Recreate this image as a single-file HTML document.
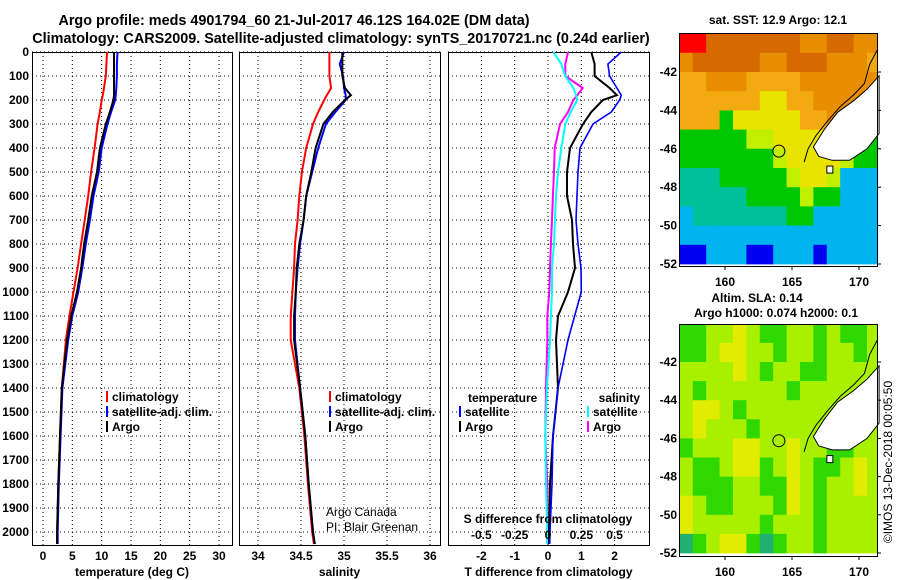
<!DOCTYPE html>
<html><head><meta charset="utf-8"><style>
html,body{margin:0;padding:0;background:#fff;}
svg{display:block;font-family:"Liberation Sans",sans-serif;}
</style></head><body>
<svg id="fig" width="900" height="580" viewBox="0 0 900 580" xmlns="http://www.w3.org/2000/svg">
<text x="294" y="25" text-anchor="middle" font-size="14.4" font-weight="bold">Argo profile: meds 4901794_60 21-Jul-2017 46.12S 164.02E (DM data)</text>
<text x="341" y="43" text-anchor="middle" font-size="14.4" font-weight="bold">Climatology: CARS2009. Satellite-adjusted climatology: synTS_20170721.nc (0.24d earlier)</text>
<text x="778" y="24" text-anchor="middle" font-size="12" font-weight="bold">sat. SST: 12.9 Argo: 12.1</text>
<text x="757" y="302" text-anchor="middle" font-size="12" font-weight="bold">Altim. SLA: 0.14</text>
<text x="776" y="317" text-anchor="middle" font-size="12" font-weight="bold">Argo h1000: 0.074 h2000: 0.1</text>
<text transform="translate(892,462) rotate(-90)" text-anchor="middle" font-size="12">©IMOS 13-Dec-2018 00:05:50</text>
<g id="maps"></g>
<g id="panels"></g>
</svg>
<script>
// ---------- data ----------
const depths = [0,50,100,150,180,200,250,300,400,500,600,700,800,900,1000,1100,1200,1400,1600,1800,2000,2050];
const tempArgo = [12.1,12.1,12.1,12.1,12.1,12.0,11.4,10.7,9.7,9.2,8.3,7.7,7.0,6.5,5.8,4.8,4.1,3.2,2.9,2.6,2.4,2.4];
const tempSat  = [12.7,12.6,12.6,12.5,12.4,12.3,11.6,11.0,10.0,9.5,8.6,8.0,7.3,6.7,6.0,5.0,4.3,3.3,3.0,2.7,2.5,2.5];
const tempClim = [10.9,10.8,10.7,10.4,10.2,10.0,9.7,9.3,8.8,8.2,7.7,7.1,6.5,5.9,5.2,4.5,3.9,3.2,2.9,2.6,2.4,2.4];
const salArgo = [34.98,34.98,34.98,35.01,35.08,35.01,34.87,34.76,34.67,34.62,34.56,34.53,34.48,34.45,34.44,34.42,34.42,34.49,34.55,34.59,34.64,34.66];
const salSat  = [35.00,34.95,34.99,35.00,35.02,35.02,34.90,34.79,34.70,34.63,34.56,34.53,34.49,34.46,34.44,34.43,34.43,34.49,34.55,34.59,34.64,34.66];
const salClim = [34.83,34.83,34.83,34.85,34.80,34.77,34.70,34.64,34.56,34.51,34.48,34.46,34.43,34.42,34.40,34.38,34.38,34.48,34.54,34.58,34.63,34.65];
const dTArgo = [1.3,1.4,1.4,1.85,2.07,1.65,1.3,1.05,0.66,0.57,0.57,0.72,0.75,0.81,0.6,0.3,0.24,0.3,0.15,0.06,0.03,0.03];
const dTSat  = [2.2,1.8,1.85,2.07,2.2,2.15,1.9,1.35,0.96,0.9,0.87,0.84,0.9,0.99,1.0,0.8,0.6,0.3,0.15,0.12,0.06,0.05];
const dSArgo = [0.15,0.13,0.13,0.26,0.22,0.19,0.15,0.09,0.05,0.045,0.037,0.03,0.022,0.015,0.01,-0.005,-0.005,-0.015,-0.02,-0.005,-0.005,-0.005];
const dSSat  = [0.04,0.1,0.13,0.19,0.21,0.22,0.17,0.13,0.1,0.075,0.06,0.052,0.045,0.03,0.03,0.022,0.015,-0.008,-0.02,-0.015,-0.005,-0.005];
const depthTicks = [0,100,200,300,400,500,600,700,800,900,1000,1100,1200,1300,1400,1500,1600,1700,1800,1900,2000];
const tempTicks = [0,5,10,15,20,25,30];
const salTicks = [34,34.5,35,35.5,36];
const salTickLabels = ["34","34.5","35","35.5","36"];
const dTTicks = [-2,-1,0,1,2];
const dSTicks = [-0.5,-0.25,0,0.25,0.5];
const dSTickLabels = ["-0.5","-0.25","0","0.25","0.5"];
const lonTicks = [160,165,170];
const latTicks = [-42,-44,-46,-48,-50,-52];
const floatLon = 164.02, floatLat = -46.12;
const sstRows = [
"RRDDDDDDDOODDOO","ODDDDDOODDDOOOL","LLOOOLLLLOOOOOO","LLLLLLYYLLOOOOO",
"LLLNYYYYYLLOOOO","NNNNNGGYYYYLLNN","NNNNNNNGYYYYGNN","TTTNNNNNGYYGCCC",
"TTTTTNNNNGNNCCC","CTTTTTTTNNCCCCC","CCCCCCCCCCCCCCC","BBCCCBBCCCBCCCC"];
const slaRows = [
"NNGGYGNNGGNGNNG","NNGYYGGNGGNGGNG","GGGGYGNGGNNGGGG","GNGGGGGGNGGGGGG",
"GYYGNGGGGGGGGGG","GYGGGNGGGGGGGGG","NGGGYYGGYGGNNGG","GNNGYYNGYGNNGYG",
"GNNNGGNNYGNGGYG","YGNNGGGNYGNGGGG","YGGGGGNGGGNGGGG","TNGYYNTNGGNGGGG"];
const sstColors = {R:"#ff0000",D:"#d66a00",O:"#e88c00",L:"#f2aa10",Y:"#e8e400",G:"#c0f000",N:"#00c800",T:"#00c09a",C:"#00b4f0",B:"#0000f0"};
const slaColors = {G:"#a8f000",Y:"#e2ec00",N:"#30d800",T:"#20b070"};

// ---------- helpers ----------
const NS="http://www.w3.org/2000/svg";
function mk(tag,attrs,parent){const e=document.createElementNS(NS,tag);for(const k in attrs)e.setAttribute(k,attrs[k]);parent.appendChild(e);return e;}
const panels=document.getElementById('panels');
const maps=document.getElementById('maps');
const Y0=52, YB=545;
const yD=d=>Y0+d*0.24;

function drawPanel(name,x0,x1,xs,xticks,xlabels,title,gridX){
  const g=mk('g',{},panels);
  
  
  gridX.forEach(v=>{const l=mk('line',{x1:xs(v),x2:xs(v),y1:Y0,y2:YB,stroke:'#000','stroke-width':1,'stroke-dasharray':'1,3'},g);
    
    });
  depthTicks.forEach(d=>{const l=mk('line',{x1:x0,x2:x1,y1:yD(d),y2:yD(d),stroke:'#000','stroke-width':1,'stroke-dasharray':'1,3'},g);
    
    });
  if(xticks){xticks.forEach((v,i)=>{const t=mk('text',{x:xs(v),y:560,'text-anchor':'middle','font-size':12,'font-weight':'bold'},g);t.textContent=xlabels[i];
    
    });}
  const tt=mk('text',{x:(x0+x1)/2,y:576,'text-anchor':'middle','font-size':12,'font-weight':'bold'},g);tt.textContent=title;
  
  
  const r=mk('rect',{x:x0+0.5,y:Y0+0.5,width:x1-x0,height:YB-Y0,fill:'none',stroke:'#000','stroke-width':1},g);
  
  
  return g;
}
function series(g,vals,xs,color,name,w){
  const pts=vals.map((v,i)=>xs(v).toFixed(1)+','+yD(depths[i]).toFixed(1)).join(' ');
  const p=mk('polyline',{points:pts,fill:'none',stroke:color,'stroke-width':w||2,'stroke-linejoin':'miter'},g);
  
  
}
function legend(g,x,y,color,label){
  const b=mk('rect',{x:x,y:y-6,width:2,height:11,fill:color},g);
  
  
  const t=mk('text',{x:x+6,y:y+4,'font-size':12,'font-weight':'bold'},g);t.textContent=label;
  
  
}
function txt(g,x,y,s,opts,name){const t=mk('text',Object.assign({x:x,y:y,'font-size':12,'font-weight':'bold'},opts||{}),g);t.textContent=s;
  
  return t;}

// depth labels
depthTicks.forEach(d=>{const t=mk('text',{x:29,y:yD(d)+4,'text-anchor':'end','font-size':12,'font-weight':'bold'},panels);t.textContent=d;
  
  });

// Panel 1 temperature
const xT=v=>43+v*5.867;
const g1=drawPanel('temperature-panel',32,232,xT,tempTicks,tempTicks.map(String),'temperature (deg C)',tempTicks);
series(g1,tempClim,xT,'#ff0000','climatology-temp-line');
series(g1,tempSat,xT,'#0000ff','satellite-temp-line');
series(g1,tempArgo,xT,'#000000','argo-temp-line');
legend(g1,106,397,'#ff0000','climatology');
legend(g1,106,412,'#0000ff','satellite-adj. clim.');
legend(g1,106,427,'#000000','Argo');

// Panel 2 salinity
const xS=v=>258+(v-34)*86;
const g2=drawPanel('salinity-panel',239,440,xS,salTicks,salTickLabels,'salinity',salTicks);
series(g2,salClim,xS,'#ff0000','climatology-sal-line');
series(g2,salSat,xS,'#0000ff','satellite-sal-line');
series(g2,salArgo,xS,'#000000','argo-sal-line');
legend(g2,329,397,'#ff0000','climatology');
legend(g2,329,412,'#0000ff','satellite-adj. clim.');
legend(g2,329,427,'#000000','Argo');
txt(g2,326,516,'Argo Canada',{'font-weight':'normal'},'credit-line-1');
txt(g2,326,531,'PI: Blair Greenan',{'font-weight':'normal'},'credit-line-2');

// Panel 3 differences
const xDT=v=>548+v*33.3;
const xDS=v=>548+v*133.3;
const g3=drawPanel('difference-panel',448,649,xDT,dTTicks,dTTicks.map(String),'T difference from climatology',dTTicks);
series(g3,dSArgo,xDS,'#ff00ff','argo-sal-diff-line');
series(g3,dSSat,xDS,'#00ffff','satellite-sal-diff-line');
series(g3,dTArgo,xDT,'#000000','argo-temp-diff-line');
series(g3,dTSat,xDT,'#0000ff','satellite-temp-diff-line',1.6);
txt(g3,548,523,'S difference from climatology',{'text-anchor':'middle'},'s-axis-title');
dSTicks.forEach((v,i)=>txt(g3,xDS(v),539,dSTickLabels[i],{'text-anchor':'middle'},'s-tick-label'));
txt(g3,468,402,'temperature',{},'legend-title-temperature');
legend(g3,459,412,'#0000ff','satellite');
legend(g3,459,427,'#000000','Argo');
txt(g3,640,402,'salinity',{'text-anchor':'end'},'legend-title-salinity');
legend(g3,587,412,'#00ffff','satellite');
legend(g3,587,427,'#ff00ff','Argo');

// ---------- maps ----------
const LON0=156.6, LAT0=-40.0;
function drawMap(name,x0,x1,top,bottom,rows,colors,yOf){
  const g=mk('g',{},maps);
  
  
  const xL=lon=>725+(lon-160)*13.4;
  rows.forEach((row,ri)=>{for(let ci=0;ci<row.length;ci++){
    const xa=xL(LON0+ci), xb=xL(LON0+ci+1), ya=yOf(LAT0-ri), yb=yOf(LAT0-ri-1);
    const c=mk('rect',{x:Math.max(xa,x0).toFixed(1),y:Math.max(ya,top).toFixed(1),width:(Math.min(xb,x1)-Math.max(xa,x0)+0.4).toFixed(1),height:(Math.min(yb,bottom)-Math.max(ya,top)+0.4).toFixed(1),fill:colors[row[ci]]},g);
    
    
  }});
  const land=[[171.5,-42.2],[170.6,-42.9],[169.6,-43.5],[168.4,-44.1],[167.4,-45.0],[166.6,-45.9],[167.0,-46.4],[168.0,-46.6],[169.3,-46.6],[170.6,-46.0],[171.5,-45.2]];
  const lp=mk('polygon',{points:land.map(p=>xL(p[0]).toFixed(1)+','+yOf(p[1]).toFixed(1)).join(' '),fill:'#fff',stroke:'#000','stroke-width':1},g);
  
  
  const coast=[[171.4,-40.8],[170.8,-41.6],[170.4,-42.6],[169.6,-43.2],[168.6,-43.8],[167.6,-44.6],[166.8,-45.3],[166.2,-46.0],[165.9,-46.7]];
  const cl=mk('polyline',{points:coast.map(p=>xL(p[0]).toFixed(1)+','+yOf(p[1]).toFixed(1)).join(' '),fill:'none',stroke:'#000','stroke-width':1},g);
  
  
  const isl=mk('rect',{x:xL(167.6),y:yOf(-46.9),width:6,height:7,fill:'#fff',stroke:'#000'},g);
  
  
  const fc=mk('circle',{cx:xL(floatLon),cy:yOf(floatLat),r:6,fill:'none',stroke:'#000','stroke-width':1},g);
  
  
  const fr=mk('rect',{x:x0+0.5,y:top+0.5,width:x1-x0,height:bottom-top,fill:'none',stroke:'#000'},g);
  
  
  lonTicks.forEach(v=>{const t=mk('text',{x:xL(v),y:bottom+20,'text-anchor':'middle','font-size':12,'font-weight':'bold'},g);t.textContent=v;
    
    
    const tk=mk('line',{x1:xL(v),x2:xL(v),y1:bottom,y2:bottom+4,stroke:'#000'},g);
    
    });
  latTicks.forEach(v=>{const t=mk('text',{x:x0-2,y:yOf(v)+4,'text-anchor':'end','font-size':12,'font-weight':'bold'},g);t.textContent=v;
    
    
    const tk=mk('line',{x1:x1,x2:x1+4,y1:yOf(v),y2:yOf(v),stroke:'#000'},g);
    
    });
}
const cp=mk('clipPath',{id:'mapclip'},document.getElementById('fig'));
mk('rect',{x:660,y:0,width:240,height:580},cp);
maps.setAttribute('clip-path','url(#mapclip)');
drawMap('sst-map',679,877,33,266,sstRows,sstColors,lat=>72+(-42-lat)*19.2);
drawMap('sla-map',679,877,324,556,slaRows,slaColors,lat=>362+(-42-lat)*19.1);
</script>
</body></html>
